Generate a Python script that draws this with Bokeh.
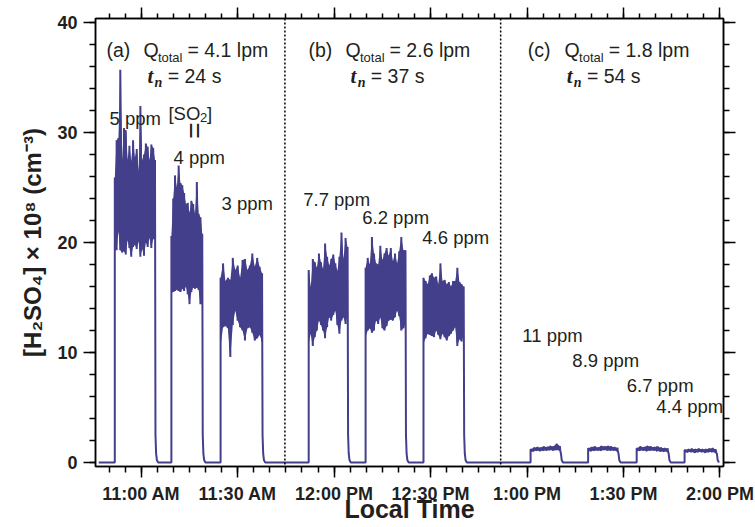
import numpy as np
from bokeh.plotting import figure
from bokeh.models import Range1d, LinearAxis, FixedTicker, Span, Label
from bokeh.embed import file_html
from bokeh.resources import INLINE

# ---------------- data (time = minutes after midnight, local time) ----------------
trace_start = 646.8
trace_end = 839.7

pulse_on = [651.8, 669.4, 684.7, 712.1, 729.8, 747.8, 781.1, 799.0, 814.1, 829.0]
pulse_off = [664.3, 679.0, 697.6, 724.2, 742.2, 760.3, 790.2, 808.1, 823.7, 838.7]

# upper / lower envelope readings of the noisy H2SO4 signal in each SO2 pulse (x 1e8 cm-3)
pulse_hi = [
    [25.9, 29.3, 29.5, 35.7, 27.5, 30.4, 30.2, 27.5, 28.8, 27.4, 29.3, 27.7,
     28.5, 26.5, 32.4, 27.5, 28.0, 29.0, 28.7, 27.5, 28.9, 28.6, 27.5],
    [20.6, 24.0, 26.1, 25.0, 27.0, 25.4, 25.2, 24.5, 23.5, 23.6, 22.7, 23.8,
     23.5, 22.6, 25.5, 22.6, 22.3, 20.8],
    [16.8, 18.1, 16.5, 16.8, 16.6, 18.6, 17.5, 17.9, 16.8, 18.4, 18.5, 17.5,
     17.9, 19.0, 17.8, 18.6, 17.8, 17.2],
    [17.5, 15.9, 18.5, 18.2, 17.7, 19.0, 18.2, 17.6, 19.9, 18.7, 17.9, 18.5,
     18.9, 18.1, 17.4, 18.7, 20.9, 18.5, 20.4, 19.6],
    [17.7, 18.6, 18.0, 20.5, 19.0, 18.1, 18.0, 19.7, 18.4, 19.0, 19.5, 18.8,
     19.5, 18.3, 19.0, 18.1, 19.2, 20.5, 19.3, 19.3],
    [16.8, 16.5, 16.2, 17.0, 17.2, 16.8, 16.9, 16.2, 18.1, 16.5, 16.6, 16.2,
     16.4, 16.0, 16.5, 16.5, 17.7, 16.4, 16.2, 16.0],
    [1.20, 1.35, 1.40, 1.35, 1.45, 1.40, 1.50, 1.45, 1.70, 1.50],
    [1.30, 1.40, 1.45, 1.35, 1.50, 1.45, 1.50, 1.45, 1.40, 1.35],
    [1.30, 1.45, 1.40, 1.50, 1.45, 1.40, 1.45, 1.35, 1.30, 1.30],
    [1.15, 1.20, 1.25, 1.20, 1.25, 1.20, 1.20, 1.25, 1.30, 1.20],
]
pulse_lo = [
    [19.5, 19.3, 21.0, 19.3, 19.1, 19.2, 18.9, 20.2, 19.5, 18.7, 19.6, 19.8,
     19.4, 20.1, 18.7, 19.4, 18.8, 20.0, 19.6, 20.4, 19.5, 20.3, 21.0],
    [15.4, 15.5, 15.6, 15.7, 15.6, 15.5, 15.8, 15.6, 16.0, 15.3, 14.4, 15.5,
     15.9, 15.8, 15.9, 15.7, 14.4, 15.8],
    [10.6, 12.3, 12.4, 12.2, 9.6, 12.5, 13.8, 12.9, 12.3, 12.0, 11.1, 12.2,
     12.3, 11.8, 11.1, 11.3, 11.6, 11.0],
    [10.8, 11.7, 10.6, 11.4, 12.0, 12.9, 12.5, 12.0, 11.3, 12.3, 13.2, 12.9,
     13.4, 13.8, 12.5, 11.7, 12.9, 13.2, 12.6, 13.5],
    [11.4, 12.0, 12.2, 11.8, 12.0, 12.9, 12.6, 13.2, 12.2, 12.0, 12.4, 12.9,
     13.0, 12.9, 13.2, 13.8, 13.3, 12.0, 12.2, 12.6],
    [10.8, 11.3, 11.7, 11.6, 11.5, 11.4, 12.0, 11.6, 11.2, 11.7, 11.4, 11.1,
     11.5, 11.7, 12.0, 12.3, 10.6, 11.2, 11.0, 11.6],
    [0.95, 1.05, 1.10, 1.05, 1.10, 1.10, 1.15, 1.10, 1.15, 1.10],
    [1.00, 1.05, 1.10, 1.10, 1.10, 1.15, 1.10, 1.10, 1.10, 1.05],
    [1.00, 1.10, 1.10, 1.05, 1.10, 1.10, 1.05, 1.00, 1.00, 1.00],
    [0.90, 0.95, 0.95, 0.90, 0.95, 0.95, 0.90, 0.95, 0.95, 0.90],
]
# decay of the signal after the SO2 is switched off (minutes after switch-off, value)
fall_dt = [0.15, 0.35, 0.6, 1.0]
fall_val = [2.5, 0.8, 0.2, 0.0]

divider_times = [704.7, 771.8]

x_tick_minutes = [660, 690, 720, 750, 780, 810, 840]
x_tick_labels = ["11:00 AM", "11:30 AM", "12:00 PM", "12:30 PM", "1:00 PM", "1:30 PM", "2:00 PM"]
y_ticks = [0, 10, 20, 30, 40]

# ---------------- figure ----------------
LINE = "#433F8B"
INK = "#231F20"
SANS = "Liberation Sans"

p = figure(width=755, height=527, output_backend="svg", toolbar_location=None,
           x_range=Range1d(645.8, 841.1), y_range=Range1d(-0.36, 40.36),
           min_border_left=95, min_border_right=32, min_border_top=18, min_border_bottom=61)
p.grid.visible = False
p.outline_line_color = "black"
p.outline_line_width = 1.5
p.background_fill_color = "white"
p.border_fill_color = "white"

# trace
xs = [trace_start]
ys = [0.0]
for on, off, hi, lo in zip(pulse_on, pulse_off, pulse_hi, pulse_lo):
    ts = np.linspace(on, off, len(hi))
    p.varea(x=ts, y1=lo, y2=hi, fill_color=LINE)
    xs.append(on)
    ys.append(0.0)
    for t, a, b in zip(ts, lo, hi):
        xs += [t, t]
        ys += [a, b]
    for dt, v in zip(fall_dt, fall_val):
        xs.append(off + dt)
        ys.append(min(v, lo[-1]))
xs.append(trace_end)
ys.append(0.0)
p.line(xs, ys, line_color=LINE, line_width=2)

for t in divider_times:
    p.add_layout(Span(location=t, dimension="height", line_color="black",
                      line_width=1.5, line_dash="2 2"))

# axes
x_ticker = FixedTicker(ticks=x_tick_minutes, minor_ticks=list(range(650, 845, 5)))
y_ticker = FixedTicker(ticks=y_ticks, minor_ticks=list(range(0, 41, 2)))


def style_axis(ax, tick_len, minor_len):
    ax.axis_line_width = 1.5
    ax.axis_line_color = "black"
    ax.major_tick_line_width = 1.5
    ax.minor_tick_line_width = 1.5
    ax.major_tick_in = 0
    ax.minor_tick_in = 0
    ax.major_tick_out = tick_len
    ax.minor_tick_out = minor_len


xa = p.xaxis[0]
xa.ticker = x_ticker
xa.major_label_overrides = {t: s for t, s in zip(x_tick_minutes, x_tick_labels)}
style_axis(xa, 11, 6)
xa.major_label_text_font = SANS
xa.major_label_text_font_style = "bold"
xa.major_label_text_font_size = "18px"
xa.major_label_text_color = INK
xa.major_label_standoff = 6
xa.axis_label = "Local Time"
xa.axis_label_text_font = SANS
xa.axis_label_text_font_style = "bold"
xa.axis_label_text_font_size = "25px"
xa.axis_label_text_color = INK
xa.axis_label_standoff = -12

ya = p.yaxis[0]
ya.ticker = y_ticker
style_axis(ya, 12, 6)
ya.major_label_text_font = SANS
ya.major_label_text_font_style = "bold"
ya.major_label_text_font_size = "18px"
ya.major_label_text_color = INK
ya.major_label_standoff = 6
ya.axis_label = "[H₂SO₄] × 10⁸ (cm⁻³)"
ya.axis_label_text_font = SANS
ya.axis_label_text_font_style = "bold"
ya.axis_label_text_font_size = "24px"
ya.axis_label_text_color = INK
ya.axis_label_standoff = 8

top = LinearAxis(ticker=x_ticker, major_label_text_font_size="1px", major_label_standoff=0,
                 major_label_text_color=None)
style_axis(top, 11, 5)
p.add_layout(top, "above")
right = LinearAxis(ticker=y_ticker, major_label_text_font_size="1px", major_label_standoff=0,
                   major_label_text_color=None)
style_axis(right, 12, 6)
p.add_layout(right, "right")


# annotations
def lab(x, y, text, size="18.5px", font=SANS, style="normal", **kw):
    p.add_layout(Label(x=x, y=y, text=text, text_font=font, text_font_size=size,
                       text_font_style=style, text_color=INK, text_baseline="alphabetic",
                       text_align="left", **kw))


headers = [
    ("(a)", "4.1", "24", 649.2, 661.96),
    ("(b)", "2.6", "37", 712.05, 725.12),
    ("(c)", "1.8", "54", 780.19, 792.33),
]
for tag, q, tn, x0, xt in headers:
    lab(x0, 37.5, tag, size="19.5px")
    lab(x0 + 11.5, 37.5, "Q", size="19.5px")
    lab(x0 + 16.0, 36.85, "total", size="13px")
    lab(x0 + 25.2, 37.5, "= " + q + " lpm", size="19.5px")
    lab(xt, 35.09, "t", size="21px", font="Liberation Serif", style="bold italic")
    lab(xt + 2.2, 34.55, "n", size="14px", font="Liberation Serif", style="bold italic")
    lab(xt + 6.3, 35.09, "= " + tn + " s", size="19.5px")

lab(650.16, 31.27, "5 ppm")
lab(668.49, 31.73, "[SO")
lab(678.30, 31.36, "2", size="13px")
lab(680.47, 31.73, "]")
p.add_layout(Label(x=676.58, y=30.18, text="=", text_font=SANS, text_font_size="28px",
                   text_color=INK, angle=np.pi / 2, text_align="center", text_baseline="middle"))
lab(670.05, 27.73, "4 ppm")
lab(684.98, 23.55, "3 ppm")
lab(710.40, 23.91, "7.7 ppm")
lab(728.76, 22.27, "6.2 ppm")
lab(747.43, 20.45, "4.6 ppm")
lab(778.55, 11.55, "11 ppm")
lab(794.10, 9.27, "8.9 ppm")
lab(811.00, 7.00, "6.7 ppm")
lab(820.20, 5.09, "4.4 ppm")

open("out.html", "w").write(file_html(p, INLINE))
